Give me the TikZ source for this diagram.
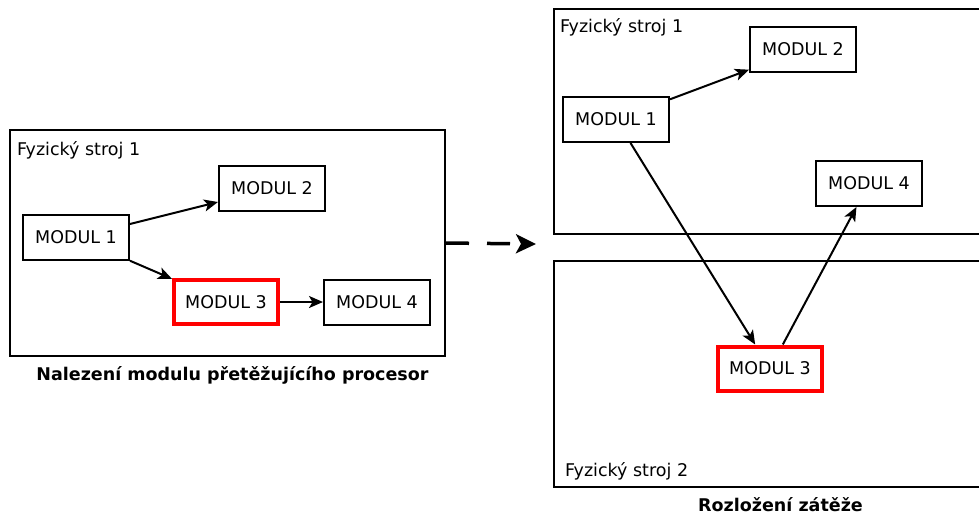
\documentclass[tikz,border=0pt]{standalone}
\usepackage{fontspec}
\setmainfont{DejaVu Sans}
\usetikzlibrary{arrows.meta}
\begin{document}
\begin{tikzpicture}[x=1pt,y=-1pt,
  font=\fontsize{17.5}{20}\selectfont,
  modul/.style={draw=black,line width=2pt,minimum width=106pt,minimum height=45pt,inner sep=0pt},
  hot/.style={draw=red,line width=4pt,minimum width=104pt,minimum height=44pt,inner sep=0pt},
  machine/.style={draw=black,line width=2pt,inner sep=0pt},
  label/.style={anchor=base west,inner sep=0pt},
  caption/.style={anchor=base,inner sep=0pt,font=\fontsize{17.5}{20}\selectfont\bfseries},
  link/.style={line width=2pt,-{Stealth[length=14pt,width=12pt,inset=3.5pt]}}]
\clip (0,0) rectangle (979,515);
\useasboundingbox (0,0) rectangle (979,515);

% --- left: one machine hosting all modules
\node[machine,minimum width=435pt,minimum height=226pt] (hostL) at (227.5,243) {};
\node[label] (hostLtxt) at (17,155) {Fyzický stroj 1};
\node[modul] (l1) at (76,237.5) {MODUL 1};
\node[modul] (l2) at (272,188.5) {MODUL 2};
\node[hot]   (l3) at (226,302) {MODUL 3};
\node[modul] (l4) at (377,302) {MODUL 4};
\draw[link] (l1) -- (l2);
\draw[link] (l1) -- (l3);
\draw[link] (l3) -- (l4);
\node[caption] (capL) at (232.5,380) {Nalezení modulu přetěžujícího procesor};

% --- transition
\coordinate (tip) at (536,244);
\draw[line width=3.5pt,dash pattern=on 23pt off 18pt,
      -{Stealth[length=20pt,width=19pt,inset=5pt]}] (hostL.east) -- (tip);

% --- right: load spread over two machines
\node[machine,minimum width=436pt,minimum height=225pt] (hostA) at (772,121.5) {};
\node[machine,minimum width=436pt,minimum height=226pt] (hostB) at (772,374) {};
\node[label] (hostAtxt) at (560,32) {Fyzický stroj 1};
\node[label] (hostBtxt) at (565,476) {Fyzický stroj 2};
\node[modul] (r1) at (616,119.5) {MODUL 1};
\node[modul] (r2) at (803,49.5) {MODUL 2};
\node[modul] (r4) at (869,183.5) {MODUL 4};
\node[hot]   (r3) at (770,368.5) {MODUL 3};
\draw[link] (r1) -- (r2);
\draw[link] (r1) -- (r3);
\draw[link] (r3) -- (r4);
\node[caption] (capR) at (780.5,511) {Rozložení zátěže};
\end{tikzpicture}
\end{document}
